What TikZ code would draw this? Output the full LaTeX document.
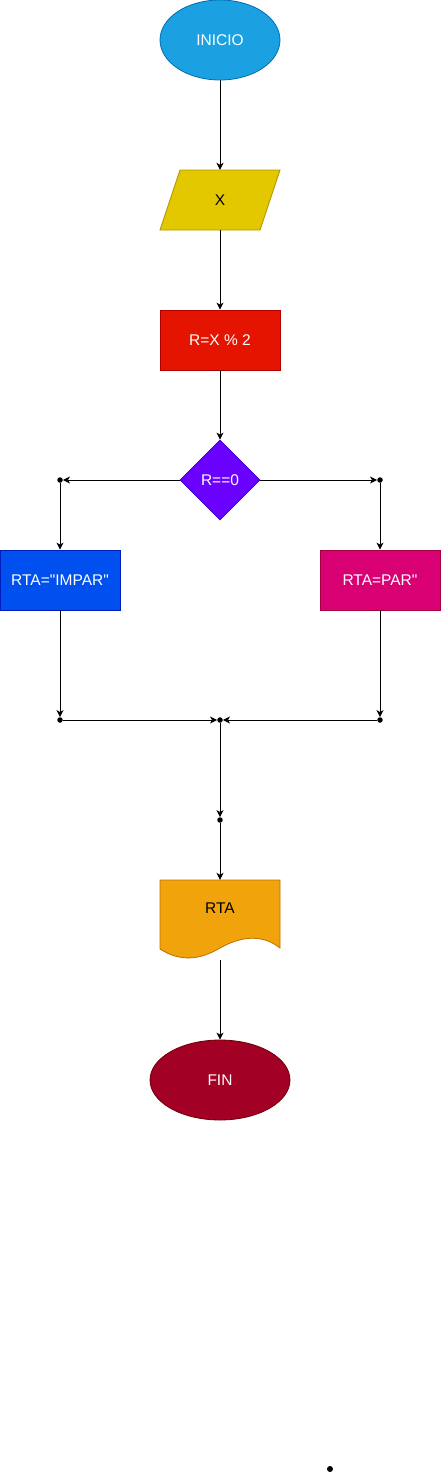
\documentclass[tikz,border=0pt]{standalone}
\usepackage{fontspec}
\setmainfont{Liberation Sans}[Ligatures=TeXOff]
\usetikzlibrary{arrows.meta,shapes.geometric}
\definecolor{inifill}{HTML}{1BA1E2}\definecolor{inidraw}{HTML}{006EAF}
\definecolor{xfill}{HTML}{E3C800}\definecolor{xdraw}{HTML}{B09500}
\definecolor{rfill}{HTML}{E51400}\definecolor{rdraw}{HTML}{B20000}
\definecolor{dfill}{HTML}{6A00FF}\definecolor{ddraw}{HTML}{3700CC}
\definecolor{ifill}{HTML}{0050EF}\definecolor{idraw}{HTML}{001DBC}
\definecolor{pfill}{HTML}{D80073}\definecolor{pdraw}{HTML}{A50040}
\definecolor{docfill}{HTML}{F0A30A}\definecolor{docdraw}{HTML}{BD7000}
\definecolor{finfill}{HTML}{A20025}\definecolor{findraw}{HTML}{6F0000}
\begin{document}
\begin{tikzpicture}[x=1pt,y=-1pt,
  font=\fontsize{15.5}{18}\selectfont,
  arr/.style={draw=black, line width=0.9pt, -{Stealth[length=7pt,width=7pt,inset=2pt]}},
  jdot/.style={circle, fill=black, inner sep=0pt, minimum size=5.5pt},
  box/.style={rectangle, line width=0.8pt, minimum width=120pt, minimum height=60pt, inner sep=0pt, text=white},
  ghost/.style={rectangle, inner sep=0pt, minimum width=120pt, minimum height=60pt}]
\useasboundingbox (0,0) rectangle (441,1481);

% start
\node[ellipse, draw=inidraw, fill=inifill, line width=0.8pt, minimum width=120pt, minimum height=80pt, inner sep=0pt, text=white] (inicio) at (220,40) {INICIO};

% input X
\filldraw[fill=xfill, draw=xdraw, line width=0.8pt] (180,170) -- (280,170) -- (260,230) -- (160,230) -- cycle;
\node[ghost] (inx) at (220,200) {X};

% process
\node[box, draw=rdraw, fill=rfill] (proc) at (220,340) {R=X \% 2};

% decision
\node[diamond, draw=ddraw, fill=dfill, line width=0.8pt, minimum width=80pt, minimum height=80pt, inner sep=0pt, aspect=1, text=white] (dec) at (220,480) {R==0};

% branches
\node[box, draw=idraw, fill=ifill] (impar) at (60,580) {RTA="IMPAR"};
\node[box, draw=pdraw, fill=pfill] (par) at (380,580) {RTA=PAR"};

% junction dots
\node[jdot] (l1) at (60,480) {};
\node[jdot] (r1) at (380,480) {};
\node[jdot] (l2) at (60,720) {};
\node[jdot] (r2) at (380,720) {};
\node[jdot] (c1) at (220,720) {};
\node[jdot] (c2) at (220,820) {};

% document
\filldraw[fill=docfill, draw=docdraw, line width=0.8pt] (160,880) -- (280,880) -- (280,948)
  .. controls (265,936) and (245,934) .. (220,948)
  .. controls (200,960) and (180,962) .. (160,949) -- cycle;
\node[rectangle, inner sep=0pt, minimum width=120pt, minimum height=80pt] (doc) at (220,920) {};
\node (doctext) at (220,908) {RTA};

% end
\node[ellipse, draw=findraw, fill=finfill, line width=0.8pt, minimum width=140pt, minimum height=80pt, inner sep=0pt, text=white] (fin) at (220,1080) {FIN};

% stray dot
\node[jdot, minimum size=6pt] (stray) at (330,1469) {};

% connectors
\draw[arr] (inicio.south) -- (inx.north);
\draw[arr] (inx.south) -- (proc.north);
\draw[arr] (proc.south) -- (dec.north);
\draw[arr] (dec.west) -- (l1);
\draw[arr] (dec.east) -- (r1);
\draw[arr] (l1) -- (impar.north);
\draw[arr] (r1) -- (par.north);
\draw[arr] (impar.south) -- (l2);
\draw[arr] (par.south) -- (r2);
\draw[arr] (l2) -- (c1);
\draw[arr] (r2) -- (c1);
\draw[arr] (c1) -- (c2);
\draw[arr] (c2) -- (doc.north);
\draw[arr] (doc.south) -- (fin.north);
\end{tikzpicture}
\end{document}
